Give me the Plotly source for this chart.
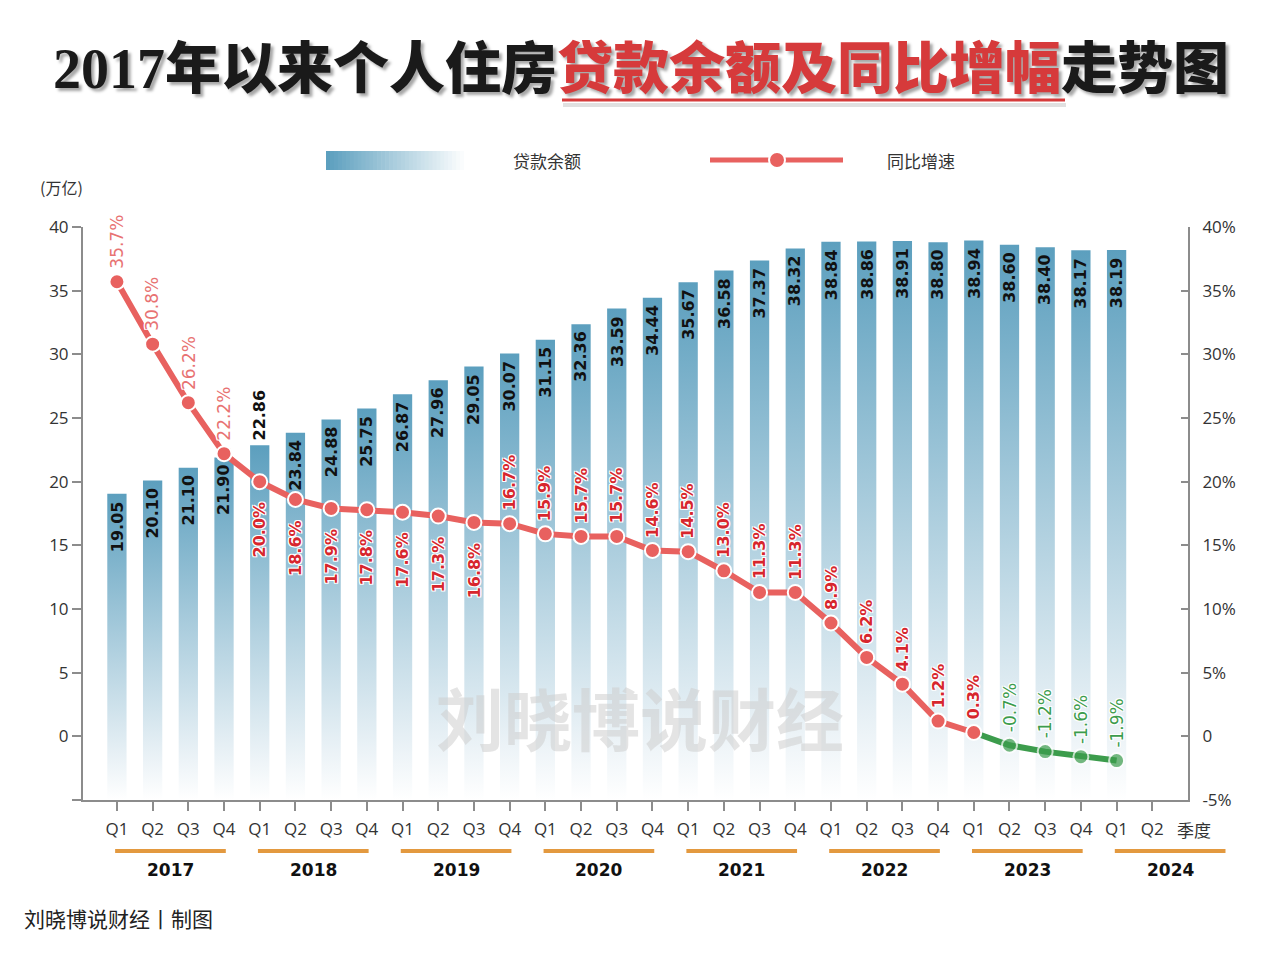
import plotly.graph_objects as go

# ---------------- data ----------------
quarter_labels = ["Q1", "Q2", "Q3", "Q4"] * 7 + ["Q1", "Q2"]
year_labels = ["2017", "2018", "2019", "2020", "2021", "2022", "2023", "2024"]
balance = [19.05, 20.10, 21.10, 21.90, 22.86, 23.84, 24.88, 25.75,
           26.87, 27.96, 29.05, 30.07, 31.15, 32.36, 33.59, 34.44,
           35.67, 36.58, 37.37, 38.32, 38.84, 38.86, 38.91, 38.80,
           38.94, 38.60, 38.40, 38.17, 38.19]
growth = [35.7, 30.8, 26.2, 22.2, 20.0, 18.6, 17.9, 17.8,
          17.6, 17.3, 16.8, 16.7, 15.9, 15.7, 15.7, 14.6,
          14.5, 13.0, 11.3, 11.3, 8.9, 6.2, 4.1, 1.2,
          0.3, -0.7, -1.2, -1.6, -1.9]
left_ticks = [-5, 0, 5, 10, 15, 20, 25, 30, 35, 40]
right_ticks = [-5, 0, 5, 10, 15, 20, 25, 30, 35, 40]

# ---------------- layout constants ----------------
OFF = 8  # page body margin
W, H = 1279 - OFF, 953 - OFF
ML, MR, MT, MB = 83 - OFF, 91, 227 - OFF, 153
X_RANGE = [-0.95, 30]
Y_RANGE = [-5, 40]
BAR_W = 0.54
BLUE = "#5c9fbe"
RED = "#e8615f"
GREEN = "#3c9c4c"
LABEL_RED = "#d7262d"
LIGHT_RED = "#e87272"
ORANGE = "#e3993f"
AXIS = "#8c8c8c"
TXT = "#333333"
FONT = "Open Sans, Noto Sans CJK SC, sans-serif"
CJK = "Noto Sans CJK SC, sans-serif"
NUMF = "DejaVu Sans, sans-serif"

PW = W - ML - MR
PH = H - MT - MB


def px(xp):
    return (xp - OFF - ML) / PW


def py(yp):
    return (H - MB - (yp - OFF)) / PH


def dom(i):
    return (i - X_RANGE[0]) / (X_RANGE[1] - X_RANGE[0])


fig = go.Figure()

# ---------------- gradient bars (left axis) ----------------
base = Y_RANGE[0]
for i, v in enumerate(balance):
    fig.add_trace(go.Scatter(
        x=[i - BAR_W / 2, i + BAR_W / 2, i + BAR_W / 2, i - BAR_W / 2, i - BAR_W / 2],
        y=[base, base, v, v, base],
        mode="none", fill="toself",
        fillgradient=dict(type="vertical",
                          colorscale=[[0, "rgba(255,255,255,1)"], [0.12, "rgba(236,243,247,1)"], [1, BLUE]]),
        yaxis="y", hoverinfo="skip", showlegend=False,
    ))

# ---------------- growth line (right axis) ----------------
n_red = 25
gx = list(range(len(growth)))
fig.add_trace(go.Scatter(
    x=gx[n_red - 1:], y=growth[n_red - 1:], yaxis="y2", mode="lines+markers",
    line=dict(color=GREEN, width=6),
    marker=dict(size=[0] + [15] * (len(growth) - n_red), color=GREEN,
                line=dict(color="white", width=2)),
    hoverinfo="skip", showlegend=False, cliponaxis=False,
))
fig.add_trace(go.Scatter(
    x=gx[:n_red], y=growth[:n_red], yaxis="y2", mode="lines+markers",
    line=dict(color=RED, width=6),
    marker=dict(size=15, color=RED, line=dict(color="white", width=2)),
    hoverinfo="skip", showlegend=False, cliponaxis=False,
))

ann = []
halo = ("white 1px 1px 0px, white -1px -1px 0px, white 1px -1px 0px, "
        "white -1px 1px 0px, white 0px 1px 0px, white 0px -1px 0px")

# bar value labels
for i, v in enumerate(balance):
    if i == 4:
        ya, ys = "bottom", 3
    else:
        ya, ys = "top", -5
    ann.append(dict(x=i, y=v, xref="x", yref="y", text=f"{v:.2f}", textangle=-90,
                    showarrow=False, yanchor=ya, xanchor="center", yshift=ys,
                    font=dict(family=NUMF, size=16, color="#111111", weight="bold")))

# growth labels
for i, g in enumerate(growth):
    txt = f"{g:.1f}%"
    if i < 4:
        col, wt, sz = LIGHT_RED, "normal", 17
    elif i < n_red:
        col, wt, sz = LABEL_RED, "bold", 16
    else:
        col, wt, sz = GREEN, "normal", 17
    if 4 <= i <= 10:
        ya, ys = "top", -18
    else:
        ya, ys = "bottom", 11
    ann.append(dict(x=i, y=g, xref="x", yref="y2", text=txt, textangle=-90,
                    showarrow=False, yanchor=ya, xanchor="center", yshift=ys,
                    font=dict(family=NUMF, size=sz, color=col, weight=wt, shadow=halo)))


def label(xp, yp, text, size, color=TXT, family=CJK, xanchor="center", weight="normal", **kw):
    ann.append(dict(x=px(xp), y=py(yp), xref="paper", yref="paper", text=text, showarrow=False,
                    xanchor=xanchor, yanchor="middle",
                    font=dict(family=family, size=size, color=color, weight=weight, **kw)))


# watermark
label(640, 716, "刘晓博说财经", 68, color="rgba(205,205,205,0.55)", weight="bold")

# x-axis extra label
ann.append(dict(x=30, y=py(829), xref="x", yref="paper", text="季度", showarrow=False,
                xanchor="center", yanchor="middle", xshift=6,
                font=dict(family=CJK, size=17, color=TXT)))

# year labels and orange lines
shapes = []
for k, yr in enumerate(year_labels):
    s = 4 * k
    shapes.append(dict(type="line", xref="paper", yref="paper",
                       x0=dom(s - 0.05), x1=dom(s + 3.05), y0=py(851), y1=py(851),
                       line=dict(color=ORANGE, width=4)))
    ann.append(dict(x=dom(s + 1.5), y=py(870), xref="paper", yref="paper", text=f"<b>{yr}</b>",
                    showarrow=False, xanchor="center", yanchor="middle",
                    font=dict(family=NUMF, size=17, color="#111111")))

# unit label
label(61, 187, "(万亿)", 16)

# title
label(641, 69, '2017年以来个人住房<span style="color:#d63a3b">贷款余额及同比增幅</span>走势图', 56,
      color="#1a1a1a", family="Liberation Serif, Noto Sans CJK SC, serif", weight=900,
      shadow="3px 3px 3px rgba(0,0,0,0.35)")
shapes.append(dict(type="line", xref="paper", yref="paper", x0=px(563), x1=px(1066),
                   y0=py(105), y1=py(105), line=dict(color="rgba(0,0,0,0.12)", width=4)))
shapes.append(dict(type="line", xref="paper", yref="paper", x0=px(562), x1=px(1065),
                   y0=py(100), y1=py(100), line=dict(color="#d63a3b", width=3)))

# footer
label(22, 918, "刘晓博说财经丨制图", 21, color="#222222", xanchor="left")

# legend (custom)
n_steps = 36
x_start, x_end = 326, 468
r0, g0, b0 = 92, 159, 190
for k in range(n_steps):
    t = k / (n_steps - 1)
    c = f"rgb({round(r0 + (255 - r0) * t)},{round(g0 + (255 - g0) * t)},{round(b0 + (255 - b0) * t)})"
    xa = x_start + (x_end - x_start) * k / n_steps
    xb = x_start + (x_end - x_start) * (k + 1) / n_steps + 0.6
    shapes.append(dict(type="rect", xref="paper", yref="paper", x0=px(xa), x1=px(xb),
                       y0=py(170), y1=py(151), line=dict(width=0), fillcolor=c))
label(547, 160, "贷款余额", 17)
shapes.append(dict(type="line", xref="paper", yref="paper", x0=px(710), x1=px(843),
                   y0=py(160), y1=py(160), line=dict(color=RED, width=5)))
shapes.append(dict(type="circle", xref="paper", yref="paper", x0=px(769), x1=px(785),
                   y0=py(168), y1=py(152), fillcolor=RED, line=dict(color="white", width=2)))
label(921, 160, "同比增速", 17)

fig.update_layout(
    width=W, height=H,
    margin=dict(l=ML, r=MR, t=MT, b=MB),
    paper_bgcolor="white", plot_bgcolor="white",
    showlegend=False,
    xaxis=dict(range=X_RANGE, tickvals=list(range(len(quarter_labels))), ticktext=quarter_labels,
               showgrid=False, zeroline=False, showline=True, linecolor=AXIS, linewidth=2,
               ticks="outside", ticklen=9, tickcolor=AXIS, tickwidth=2, ticklabelstandoff=4,
               tickfont=dict(family=FONT, size=17, color=TXT)),
    yaxis=dict(range=Y_RANGE, tickvals=left_ticks,
               ticktext=["" if t < 0 else str(t) for t in left_ticks],
               showgrid=False, zeroline=False, showline=True, linecolor=AXIS, linewidth=2,
               ticks="outside", ticklen=9, tickcolor=AXIS, tickwidth=2,
               tickfont=dict(family=FONT, size=17, color=TXT)),
    yaxis2=dict(range=Y_RANGE, overlaying="y", side="right", tickvals=right_ticks,
                ticktext=["0" if t == 0 else f"{t}%" for t in right_ticks],
                showgrid=False, zeroline=False, showline=True, linecolor=AXIS, linewidth=2,
                ticks="inside", ticklen=7, tickcolor=AXIS, tickwidth=2, ticklabelstandoff=9,
                tickfont=dict(family=FONT, size=17, color=TXT)),
    annotations=ann,
    shapes=shapes,
)

fig.write_html("out.html")
